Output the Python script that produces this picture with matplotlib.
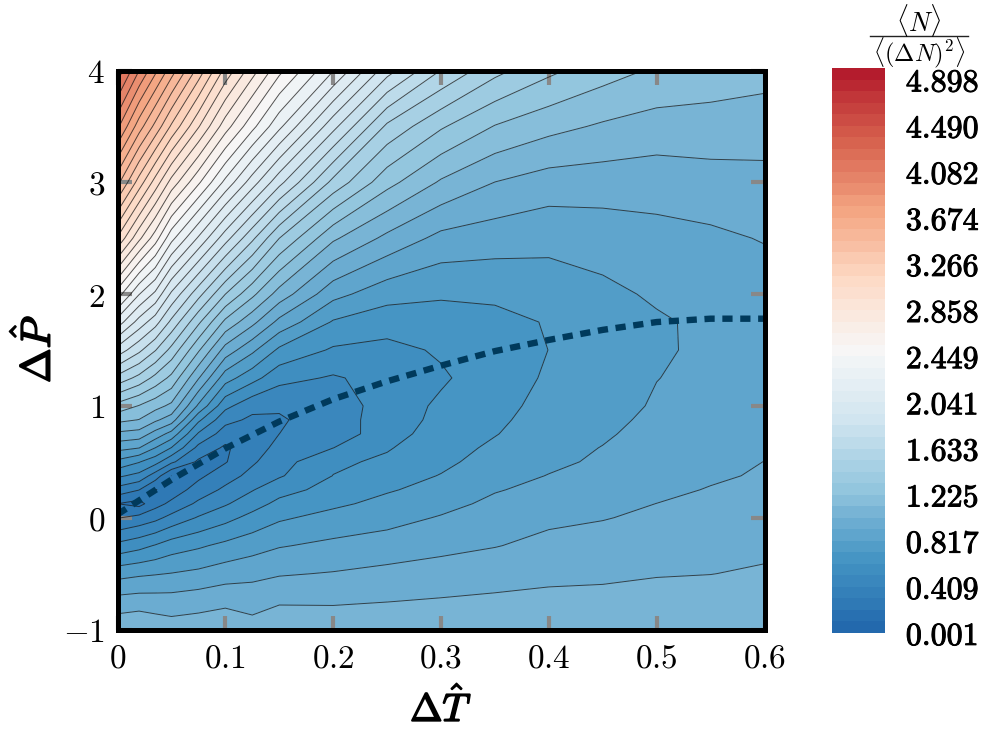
import numpy as np
import matplotlib
matplotlib.use("Agg")
import matplotlib.pyplot as plt
import matplotlib.patheffects as pe
from matplotlib.colors import LinearSegmentedColormap
from matplotlib.lines import Line2D

plt.rcParams['mathtext.fontset'] = 'cm'
plt.rcParams['font.family'] = ['DejaVu Serif']

T_nodes = [0, .02, .035, .05, .075, .1, .125, .15, .2, .25, .3, .35, .4, .45, .5, .55, .6]
P_nodes = [-1, -.75, -.5, -.25, 0, .125, .25, .375, .5, .625, .75, .875, 1, 1.25, 1.5, 1.75, 2, 2.5, 3, 3.5, 4]

col_000 = [1.10, .96, .78, .54, .30, .205, .37, .53, .69, .85, 1.0, 1.15, 1.29, 1.6, 1.9, 2.2, 2.5, 3.05, 3.5, 3.9, 4.25]
col_002 = [1.12, .97, .80, .58, .34, .17, .31, .48, .62, .82, .98, 1.12, 1.22, 1.5, 1.76, 2.0, 2.25, 2.78, 3.22, 3.62, 3.98]
col_0035 = [1.09, .967, .81, .62, .38, .27, .20, .36, .55, .715, .88, 1.04, 1.16, 1.40, 1.64, 1.88, 2.12, 2.6, 3.02, 3.44, 3.8]
col_005 = [1.07, .965, .82, .665, .44, .33, .25, .205, .43, .61, .78, .97, 1.1, 1.30, 1.50, 1.71, 1.92, 2.38, 2.82, 3.25, 3.62]
col_0075 = [1.08, .98, .84, .70, .52, .43, .35, .285, .29, .38, .50, .635, .80, 1.03, 1.24, 1.45, 1.67, 2.13, 2.57, 2.97, 3.33]
col_010 = [1.09, 1.0, .87, .74, .58, .50, .43, .365, .30, .29, .36, .44, .54, .76, .98, 1.2, 1.43, 1.88, 2.32, 2.7, 3.03]
col_0125 = [1.06, .985, .89, .775, .645, .57, .505, .44, .395, .375, .37, .39, .44, .65, .84, 1.05, 1.25, 1.655, 2.09, 2.48, 2.8]
col_015 = [1.10, 1.01, .91, .81, .70, .64, .575, .50, .47, .43, .409, .40, .42, .545, .695, .89, 1.08, 1.43, 1.87, 2.27, 2.58]
col_020 = [1.09, 1.01, .925, .84, .75, .695, .65, .615, .595, .51, .44, .45, .45, .50, .60, .705, .85, 1.14, 1.5, 1.87, 2.25]
col_025 = [1.09, 1.02, .945, .865, .78, .745, .705, .665, .63, .605, .58, .57, .56, .55, .585, .655, .755, .995, 1.26, 1.51, 1.88]
col_030 = [1.09, 1.03, .965, .89, .825, .785, .75, .72, .69, .67, .65, .635, .63, .60, .625, .68, .725, .89, 1.11, 1.34, 1.63]
col_035 = [1.10, 1.04, .98, .915, .86, .84, .81, .785, .76, .735, .71, .695, .68, .665, .665, .685, .735, .865, 1.02, 1.22, 1.46]
col_040 = [1.10, 1.05, .995, .945, .90, .875, .845, .82, .80, .785, .775, .76, .75, .728, .716, .722, .765, .845, .975, 1.155, 1.35]
col_045 = [1.10, 1.055, 1.0, .955, .915, .89, .875, .85, .83, .82, .805, .79, .77, .755, .745, .76, .795, .86, .97, 1.11, 1.27]
col_050 = [1.10, 1.06, 1.015, .975, .935, .92, .895, .88, .87, .855, .85, .84, .83, .815, .805, .806, .83, .885, .965, 1.08, 1.21]
col_055 = [1.10, 1.055, 1.02, .985, .955, .935, .925, .905, .895, .885, .875, .865, .855, .845, .835, .835, .85, .90, .98, 1.08, 1.18]
col_060 = [1.10, 1.06, 1.03, 1.005, .975, .96, .945, .93, .92, .905, .895, .885, .875, .865, .86, .858, .87, .925, .99, 1.07, 1.16]

ridge_T = [0, .05, .1, .15, .2, .25, .3, .35, .4, .45, .5, .55, .6]
ridge_P = [.03, .34, .62, .86, 1.06, 1.22, 1.36, 1.49, 1.59, 1.68, 1.75, 1.78, 1.78]

x_ticks = [0, .1, .2, .3, .4, .5, .6]
x_labels = ['$0$', '$0.1$', '$0.2$', '$0.3$', '$0.4$', '$0.5$', '$0.6$']
y_ticks = [-1, 0, 1, 2, 3, 4]
y_labels = ['$-1$', '$0$', '$1$', '$2$', '$3$', '$4$']

Z = np.array([col_000, col_002, col_0035, col_005, col_0075, col_010, col_0125, col_015, col_020,
              col_025, col_030, col_035, col_040, col_045, col_050, col_055, col_060]).T
levels = np.linspace(.001, 5, 50)
cmap = LinearSegmentedColormap.from_list('rb', plt.cm.RdBu_r(np.linspace(.1, .9, 256)))

W, H = 996, 733
fig = plt.figure(figsize=(W / 100, H / 100), dpi=100)
ax = fig.add_axes([117.5 / W, 1 - 629.5 / H, 647 / W, 559 / H])
cf = ax.contourf(T_nodes, P_nodes, Z, levels=levels, cmap=cmap)
ax.contour(T_nodes, P_nodes, Z, levels=levels, colors='#1a1a1a', linewidths=.7, alpha=.75)
ax.plot(ridge_T, ridge_P, color='#003a5c', lw=4.6, dashes=(1.6, 1.2), dash_capstyle='butt', zorder=5)

ax.set_xlim(0, .6)
ax.set_ylim(-1, 4)
ax.set_xticks(x_ticks, x_labels, fontsize=24)
ax.set_yticks(y_ticks, y_labels, fontsize=24)
ax.tick_params(axis='both', direction='in', length=10, width=3, color='#888888',
               top=True, right=True, zorder=6)
ax.tick_params(axis='x', pad=9)
ax.tick_params(axis='y', pad=9)
for s in ax.spines.values():
    s.set_linewidth(3.6)
    s.set_zorder(7)

ef = [pe.withStroke(linewidth=1.2, foreground='k')]
fig.text(441 / W, 1 - 708 / H, r'$\mathbf{\Delta}\hat{T}$', fontsize=28, ha='center', va='center', path_effects=ef)
fig.text(36 / W, 1 - 349 / H, r'$\mathbf{\Delta}\hat{P}$', fontsize=30, ha='center', va='center', rotation=90, path_effects=ef)

cax = fig.add_axes([832 / W, 1 - 633 / H, 53 / W, 565 / H])
cb = fig.colorbar(cf, cax=cax, ticks=levels[::4])
cb.outline.set_visible(False)
cb.set_ticklabels([r'$\mathbf{%.3f}$' % v for v in levels[::4]])
cb.ax.tick_params(length=0, pad=15, labelsize=23)
for lab in cb.ax.get_yticklabels():
    lab.set_path_effects([pe.withStroke(linewidth=.7, foreground='k')])

fig.text(919 / W, 1 - 20 / H, r'$\langle N\rangle$', fontsize=19, ha='center', va='center')
fig.add_artist(Line2D([870 / W, 968 / W], [1 - 36 / H, 1 - 36 / H], color='#222222', lw=1.0))
fig.text(919 / W, 1 - 52.5 / H, r'$\langle(\Delta N)^2\rangle$', fontsize=17.5, ha='center', va='center')

fig.savefig('out.png', dpi=100)
